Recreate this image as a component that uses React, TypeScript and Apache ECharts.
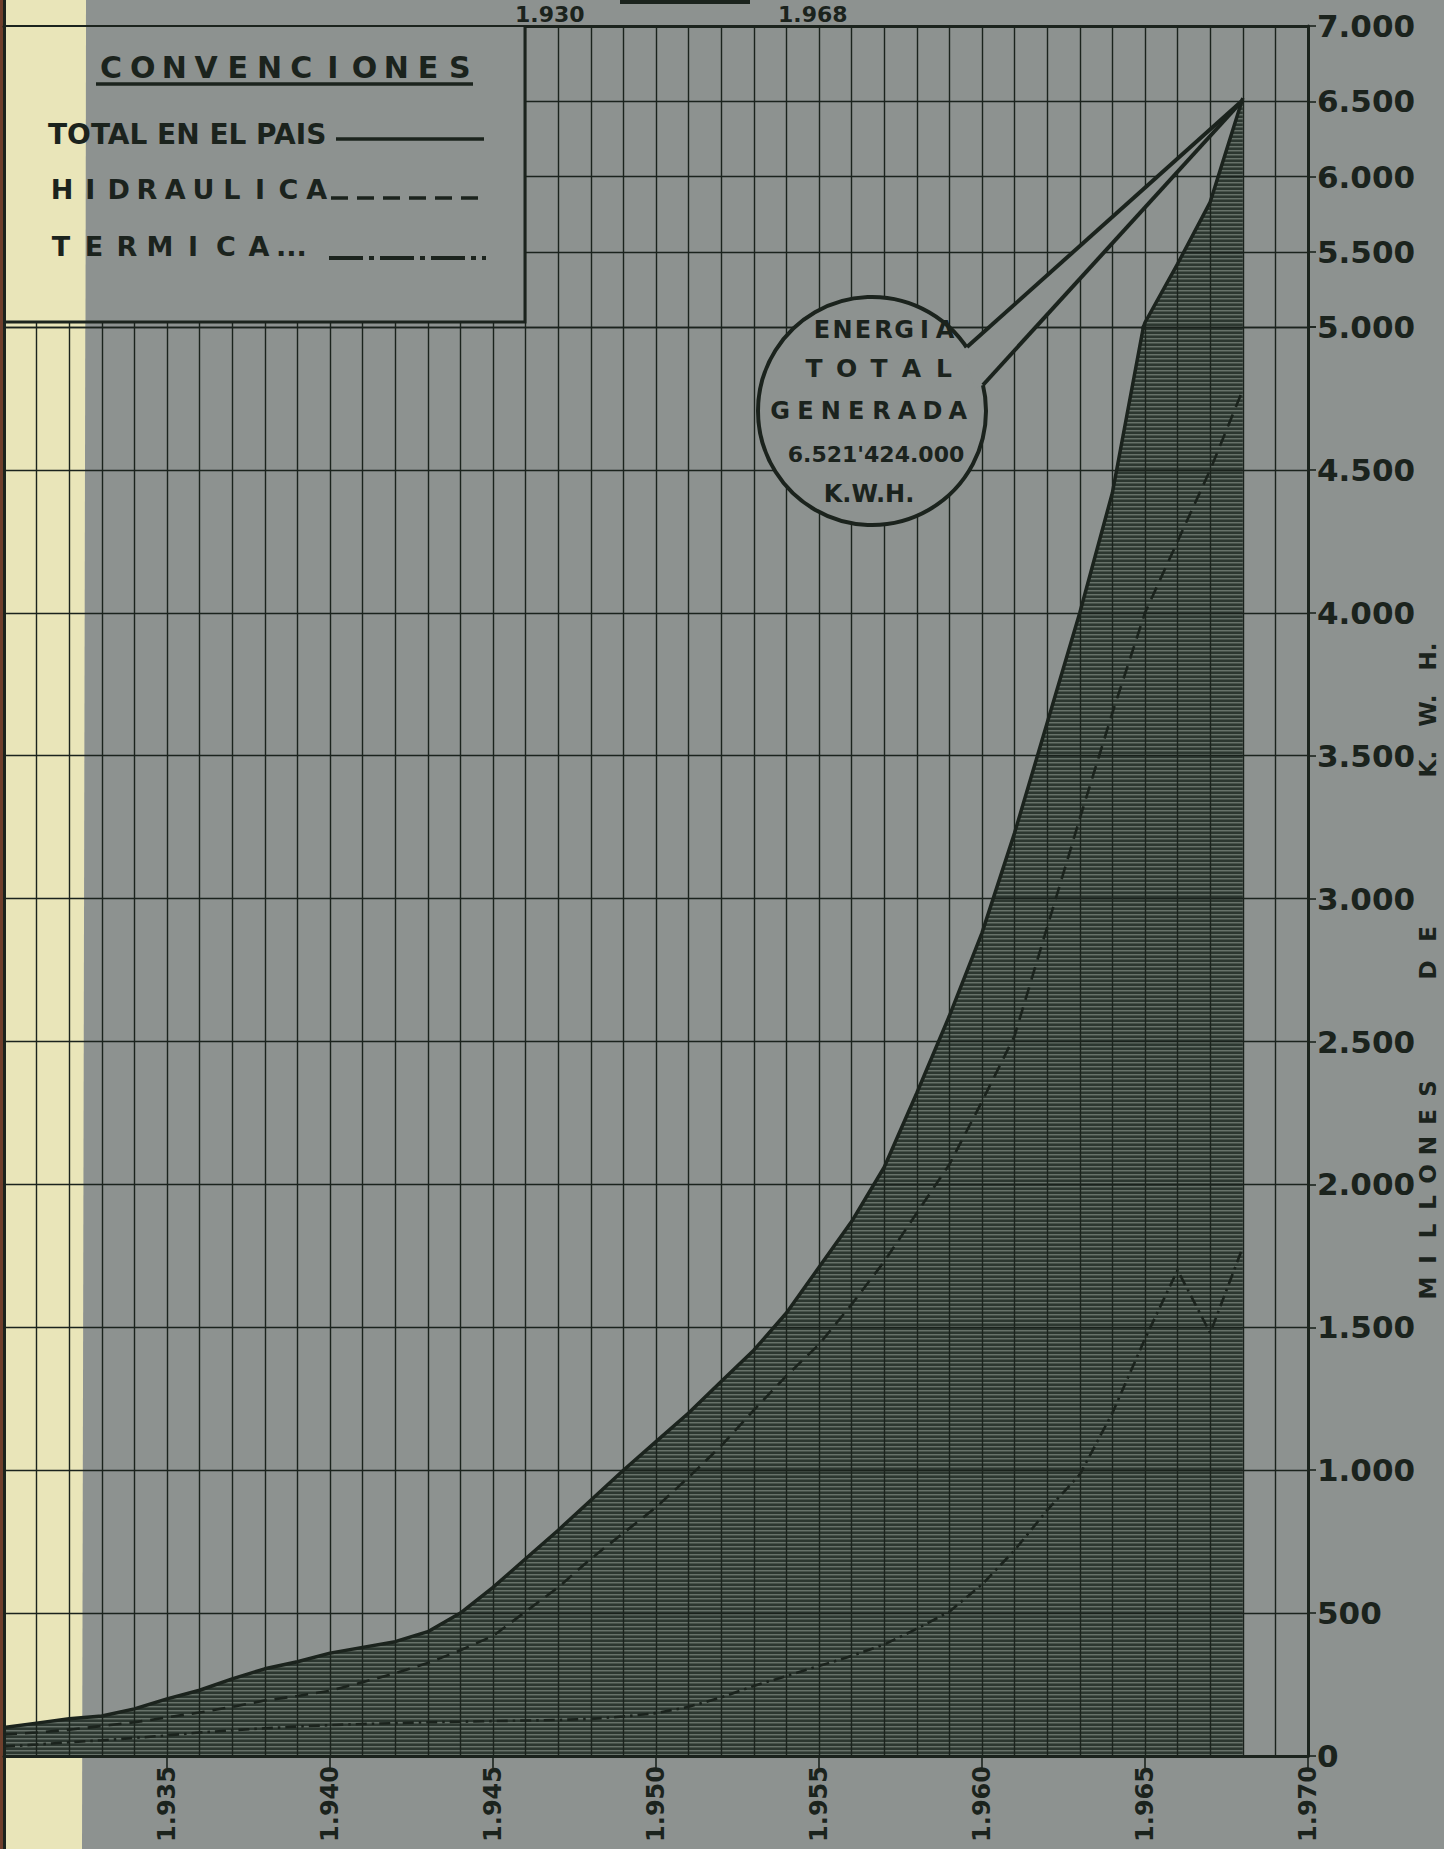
import React, { useEffect, useRef } from "react";
import * as echarts from "echarts";

// ---------- data ----------
const years = [
  1930, 1931, 1932, 1933, 1934, 1935, 1936, 1937, 1938, 1939,
  1940, 1941, 1942, 1943, 1944, 1945, 1946, 1947, 1948, 1949,
  1950, 1951, 1952, 1953, 1954, 1955, 1956, 1957, 1958, 1959,
  1960, 1961, 1962, 1963, 1964, 1965, 1966, 1967, 1968,
];
// Millones de K.W.H.
const totalEnergy = [
  100, 115, 130, 140, 165, 200, 230, 270, 305, 330,
  360, 380, 400, 435, 500, 590, 690, 790, 895, 1000,
  1100, 1200, 1310, 1420, 1550, 1710, 1870, 2060, 2320, 2590,
  2880, 3230, 3615, 4000, 4420, 5030, 5420, 5830, 6521,
];
const hydraulic = [
  75, 82, 92, 105, 118, 135, 152, 172, 194, 210,
  228, 258, 290, 325, 370, 420, 505, 590, 690, 780,
  870, 975, 1085, 1210, 1330, 1440, 1580, 1730, 1900, 2070,
  2290, 2520, 2900, 3280, 3650, 4000, 4250, 4500, 4780,
];
const thermal = [
  33, 40, 48, 55, 63, 72, 82, 90, 97, 103,
  108, 112, 115, 118, 120, 122, 124, 126, 130, 138,
  150, 172, 205, 245, 280, 315, 350, 390, 445, 505,
  600, 720, 860, 985, 1200, 1460, 1700, 1480, 1780,
];
const yLowerRange = [0, 5000];
const yUpperRange = [5000, 7000];
const yStep = 500;
const xRange = [1930, 1970];
const xStep = 5;

// ---------- styling ----------
const W = 1444;
const H = 1849;
const BG = "#8d9290";
const INK = "#1b231d";
const CREAM = "#e9e5b9";
const FONT = '"DejaVu Sans", "Liberation Sans", sans-serif';

const fmt = (v: number): string => {
  if (v < 1000) return String(v);
  const t = Math.floor(v / 1000);
  const r = v % 1000;
  return `${t}.${String(r).padStart(3, "0")}`;
};

const txt = (s: string, x: number, y: number, size: number, extra: any = {}) => ({
  type: "text",
  x,
  y,
  z: 30,
  silent: true,
  rotation: extra.rotation || 0,
  style: {
    text: s,
    fill: INK,
    font: `bold ${size}px ${FONT}`,
    textAlign: extra.align || "center",
    align: extra.align || "center",
    textVerticalAlign: "middle",
    verticalAlign: "middle",
  },
});

// letters laid out with an even pitch (horizontal, or vertical reading upward)
const spaced = (s: string, x0: number, y0: number, pitch: number, size: number, vertical = false) => {
  const out: any[] = [];
  for (let i = 0; i < s.length; i++) {
    const ch = s[i];
    if (ch === " ") continue;
    if (vertical) out.push(txt(ch, x0, y0 - i * pitch, size, { rotation: Math.PI / 2 }));
    else out.push(txt(ch, x0 + i * pitch, y0, size));
  }
  return out;
};

export default function App() {
  const ref = useRef<HTMLDivElement>(null);

  useEffect(() => {
    if (!ref.current) return;
    const chart = echarts.init(ref.current, undefined, { renderer: "svg" });

    // horizontal hatching for the shaded area
    const c = document.createElement("canvas");
    c.width = 8;
    c.height = 4;
    const g = c.getContext("2d")!;
    g.fillStyle = "#2c3730";
    g.fillRect(0, 0, 8, 4);
    g.fillStyle = "#67726a";
    g.fillRect(0, 2, 8, 1);
    g.fillStyle = "#47524a";
    g.fillRect(0, 3, 8, 1);
    const hatch: any = { image: c.toDataURL(), repeat: "repeat", imageWidth: 8, imageHeight: 4 };

    const pts = (arr: number[]) => years.map((y, i) => [y, arr[i]]);

    const axisLineStyle = { color: INK, width: 3 };
    const splitStyle = { color: INK, width: 1.4 };

    const xCommon = {
      type: "value",
      min: xRange[0],
      max: xRange[1],
      interval: xStep,
      z: 5,
      splitLine: { show: true, lineStyle: splitStyle },
      minorTick: { show: false, splitNumber: 5 },
      minorSplitLine: { show: true, lineStyle: splitStyle },
    };

    const yLabel = { margin: 9, fontSize: 31, fontWeight: "bold", color: INK, fontFamily: FONT };

    const option: any = {
      animation: false,
      backgroundColor: BG,
      grid: [
        { left: 4, right: 136, top: 327, bottom: 93, show: false },
        { left: 4, right: 136, top: 26, height: 301, show: false },
      ],
      xAxis: [
        {
          ...xCommon,
          gridIndex: 0,
          position: "bottom",
          axisLine: { show: true, onZero: false, lineStyle: axisLineStyle },
          axisTick: { show: true, length: 12, lineStyle: { color: INK, width: 1.6 } },
          axisLabel: {
            rotate: 90,
            margin: 10,
            fontSize: 24,
            fontWeight: "bold",
            color: INK,
            fontFamily: FONT,
            formatter: (v: number) => (v === xRange[0] ? "" : fmt(v)),
          },
        },
        {
          ...xCommon,
          gridIndex: 1,
          position: "top",
          axisLine: { show: true, onZero: false, lineStyle: axisLineStyle },
          axisTick: { show: false },
          axisLabel: { show: false },
        },
      ],
      yAxis: [
        {
          gridIndex: 0,
          type: "value",
          position: "right",
          min: yLowerRange[0],
          max: yLowerRange[1],
          interval: yStep,
          z: 5,
          axisLine: { show: true, onZero: false, lineStyle: axisLineStyle },
          axisTick: { show: true, length: 8, lineStyle: { color: INK, width: 1.6 } },
          axisLabel: { ...yLabel, formatter: fmt },
          splitLine: { show: true, lineStyle: splitStyle },
        },
        {
          gridIndex: 1,
          type: "value",
          position: "right",
          min: yUpperRange[0],
          max: yUpperRange[1],
          interval: yStep,
          z: 5,
          axisLine: { show: true, onZero: false, lineStyle: axisLineStyle },
          axisTick: { show: true, length: 8, lineStyle: { color: INK, width: 1.6 } },
          axisLabel: { ...yLabel, formatter: (v: number) => (v === yUpperRange[0] ? "" : fmt(v)) },
          splitLine: { show: true, lineStyle: splitStyle },
        },
      ],
      series: [
        // shaded area (lower scale and compressed upper scale)
        {
          type: "line", xAxisIndex: 0, yAxisIndex: 0, data: pts(totalEnergy), symbol: "none", z: 3, silent: true,
          lineStyle: { width: 0, opacity: 0 }, areaStyle: { color: hatch, opacity: 1, origin: "start" },
        },
        {
          type: "line", xAxisIndex: 1, yAxisIndex: 1, data: pts(totalEnergy), symbol: "none", z: 3, silent: true,
          lineStyle: { width: 0, opacity: 0 }, areaStyle: { color: hatch, opacity: 1, origin: "start" },
        },
        // total
        {
          name: "TOTAL EN EL PAIS", type: "line", xAxisIndex: 0, yAxisIndex: 0, data: pts(totalEnergy), symbol: "none", z: 8,
          lineStyle: { color: INK, width: 3.5 },
        },
        {
          type: "line", xAxisIndex: 1, yAxisIndex: 1, data: pts(totalEnergy), symbol: "none", z: 8,
          lineStyle: { color: INK, width: 3.5 },
        },
        // hydraulic
        {
          name: "HIDRAULICA", type: "line", xAxisIndex: 0, yAxisIndex: 0, data: pts(hydraulic), symbol: "none", z: 8,
          lineStyle: { color: INK, width: 2.6, type: [13, 8] },
        },
        // thermal
        {
          name: "TERMICA", type: "line", xAxisIndex: 0, yAxisIndex: 0, data: pts(thermal), symbol: "none", z: 8,
          lineStyle: { color: INK, width: 2.6, type: [11, 5, 2.5, 5] },
        },
      ],
      graphic: {
        elements: [
          // paper strip on the left
          { type: "rect", z: 1, silent: true, shape: { x: 0, y: 0, width: 3, height: H }, style: { fill: "#6e3f2c" } },
          { type: "polygon", z: 1, silent: true, shape: { points: [[3, 0], [86, 0], [82, H], [3, H]] }, style: { fill: CREAM } },
          { type: "line", z: 6, silent: true, shape: { x1: 4.5, y1: 0, x2: 4.5, y2: H }, style: { stroke: INK, lineWidth: 3 } },

          // legend box
          { type: "rect", z: 20, silent: true, shape: { x: 85, y: 27, width: 440, height: 295 }, style: { fill: BG } },
          { type: "polygon", z: 20, silent: true, shape: { points: [[6, 27], [86, 27], [85.5, 322], [6, 322]] }, style: { fill: CREAM } },
          {
            type: "polyline", z: 21, silent: true,
            shape: { points: [[4, 322], [525, 322], [525, 26]] },
            style: { stroke: INK, lineWidth: 3, fill: "none" },
          },
          ...spaced("CONVENCIONES", 111, 67, 31.7, 30),
          { type: "line", z: 30, silent: true, shape: { x1: 96, y1: 84, x2: 473, y2: 84 }, style: { stroke: INK, lineWidth: 3.5 } },
          txt("TOTAL EN EL PAIS", 48, 134, 28, { align: "left" }),
          { type: "line", z: 30, silent: true, shape: { x1: 336, y1: 139, x2: 484, y2: 139 }, style: { stroke: INK, lineWidth: 3.5 } },
          ...spaced("HIDRAULICA", 62, 189, 28.3, 27),
          { type: "line", z: 30, silent: true, shape: { x1: 331, y1: 198, x2: 486, y2: 198 }, style: { stroke: INK, lineWidth: 3.5, lineDash: [17, 9] } },
          ...spaced("TERMICA", 61, 246, 33, 27),
          txt("...", 276, 246, 27, { align: "left" }),
          { type: "line", z: 30, silent: true, shape: { x1: 329, y1: 258, x2: 486, y2: 258 }, style: { stroke: INK, lineWidth: 4, lineDash: [34, 6, 5, 6] } },

          // callout
          { type: "circle", z: 20, silent: true, shape: { cx: 872, cy: 411, r: 114 }, style: { fill: BG, stroke: INK, lineWidth: 4 } },
          {
            type: "polygon", z: 21, silent: true,
            shape: { points: [[967, 347], [1243, 100], [983, 385], [975, 388], [969, 368], [960, 352]] },
            style: { fill: BG },
          },
          { type: "line", z: 22, silent: true, shape: { x1: 967, y1: 347, x2: 1243, y2: 100 }, style: { stroke: INK, lineWidth: 4 } },
          { type: "line", z: 22, silent: true, shape: { x1: 983, y1: 385, x2: 1243, y2: 100 }, style: { stroke: INK, lineWidth: 4 } },
          ...spaced("ENERGIA", 822, 330, 20.5, 24),
          ...spaced("TOTAL", 814, 368, 32.5, 25),
          ...spaced("GENERADA", 780, 411, 25.4, 24),
          txt("6.521'424.000", 876, 454, 22),
          txt("K.W.H.", 869, 494, 24),

          // period heading at the top edge
          txt("1.930", 515, 14, 22, { align: "left" }),
          { type: "rect", z: 30, silent: true, shape: { x: 620, y: 0, width: 130, height: 4 }, style: { fill: INK } },
          txt("1.968", 778, 14, 22, { align: "left" }),

          // axis title
          ...spaced("MILLONES", 1428, 1288, 28.5, 23, true),
          ...spaced("DE", 1428, 970, 36, 23, true),
          txt("K.   W.   H.", 1428, 710, 23, { rotation: Math.PI / 2 }),
        ],
      },
    };

    chart.setOption(option);
    return () => chart.dispose();
  }, []);

  return (
    <div
      ref={ref}
      style={{ position: "absolute", left: 0, top: 0, width: W, height: H }}
    />
  );
}
